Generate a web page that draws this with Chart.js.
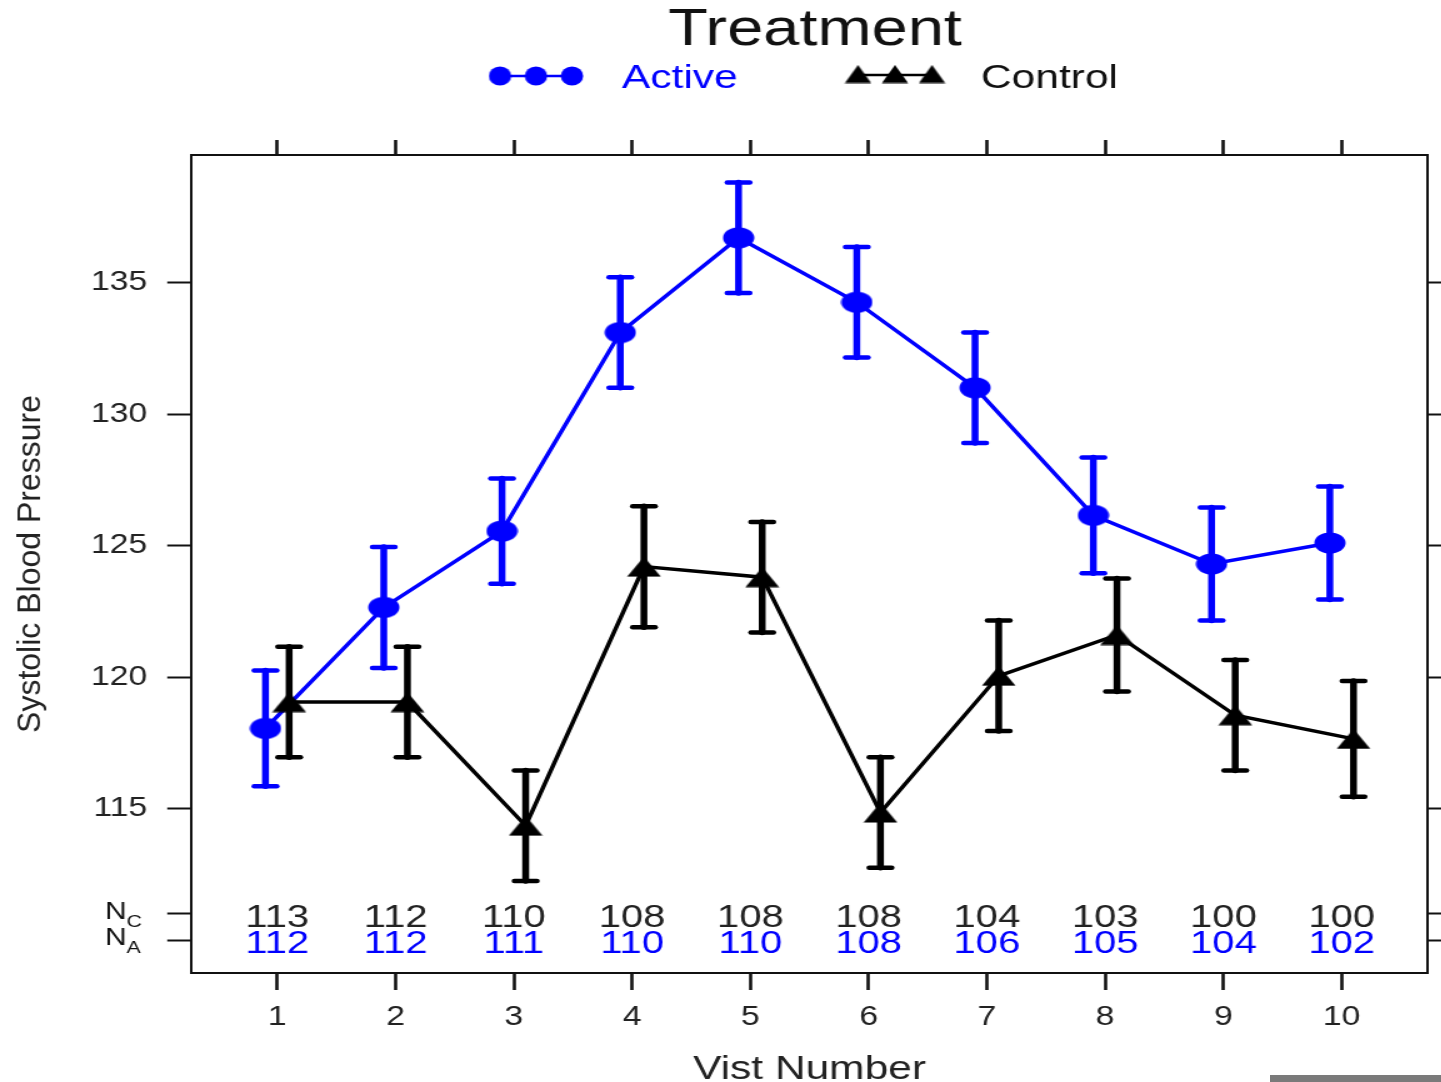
<!DOCTYPE html>
<html>
<head>
<meta charset="utf-8">
<script src="https://cdn.jsdelivr.net/npm/chart.js@4.4.1/dist/chart.umd.min.js"></script>
<style>
html, body { margin: 0; padding: 0; background: #fff; width: 1441px; height: 1082px; overflow: hidden; }
/* the reference is drawn wide, so the chart is laid out narrower and stretched */
#wrap { position: absolute; left: 0; top: 0; width: 1153px; height: 1082px; transform: scaleX(1.25); transform-origin: 0 0; }
#strip { position: absolute; left: 1270px; top: 1075px; width: 171px; height: 7px; background: #7a7a7a; }
</style>
</head>
<body>
<div id="wrap"><canvas id="c" width="1153" height="1082"></canvas></div>
<div id="strip"></div>
<script>
const visits = [1, 2, 3, 4, 5, 6, 7, 8, 9, 10];
const activeMean = [118.05, 122.65, 125.55, 133.1, 136.7, 134.25, 131.0, 126.15, 124.3, 125.1];
const activeSE = [2.2, 2.3, 2.0, 2.1, 2.1, 2.1, 2.1, 2.2, 2.15, 2.15];
const controlMean = [119.05, 119.05, 114.35, 124.2, 123.8, 114.85, 120.05, 121.6, 118.55, 117.65];
const controlSE = [2.1, 2.1, 2.1, 2.3, 2.1, 2.1, 2.1, 2.15, 2.1, 2.2];
const nControl = [113, 112, 110, 108, 108, 108, 104, 103, 100, 100];
const nActive = [112, 112, 111, 110, 110, 108, 106, 105, 104, 102];
const yTicks = [115, 120, 125, 130, 135];

const X_MIN = 0.27, X_MAX = 10.73;
const Y_MIN = 108.75, Y_MAX = 139.85;
const NC_ROW = 111, NA_ROW = 110;
const DODGE = 0.1;
const BLUE = '#0000ff';
const INK = '#111';
const FONT = "'Liberation Sans', Arial, Helvetica, sans-serif";

function ellipseImg(w, h, color) {
    const c = document.createElement('canvas');
    c.width = w; c.height = h;
    const g = c.getContext('2d');
    g.fillStyle = color;
    g.beginPath();
    g.ellipse(w / 2, h / 2, w / 2 - 0.5, h / 2 - 0.5, 0, 0, Math.PI * 2);
    g.fill();
    return c;
}

function triangleImg(w, h, color) {
    const c = document.createElement('canvas');
    c.width = w; c.height = h;
    const g = c.getContext('2d');
    g.fillStyle = color;
    g.beginPath();
    g.moveTo(w / 2, 0.5);
    g.lineTo(w - 0.5, h - 0.5);
    g.lineTo(0.5, h - 0.5);
    g.closePath();
    g.fill();
    return c;
}

const dotMark = ellipseImg(26, 22, BLUE);
const triMark = triangleImg(28, 21, '#000');
const dotKey = ellipseImg(19, 20, BLUE);
const triKey = triangleImg(22, 19, '#000');

function fixTicks(vals) {
    return s => { s.ticks = vals.map(v => ({ value: v })); };
}

function line(ctx, x1, y1, x2, y2) {
    ctx.beginPath();
    ctx.moveTo(x1, y1);
    ctx.lineTo(x2, y2);
    ctx.stroke();
}

const frame = { display: true, color: INK, width: 2 };
const tickFont = { family: FONT, size: 27 };

const decor = {
    id: 'decor',
    beforeDatasetDraw(chart, args) {
        const ds = chart.data.datasets[args.index];
        const ctx = chart.ctx, xs = chart.scales.x, ys = chart.scales.y;
        ctx.save();
        ctx.strokeStyle = ds.borderColor;
        ctx.lineCap = 'round';
        ds.data.forEach((p, i) => {
            const px = xs.getPixelForValue(p.x);
            const top = ys.getPixelForValue(p.y + ds.se[i]);
            const bot = ys.getPixelForValue(p.y - ds.se[i]);
            ctx.lineWidth = 5.5;
            line(ctx, px, top, px, bot);
            ctx.lineWidth = 4.5;
            line(ctx, px - 9, top, px + 9, top);
            line(ctx, px - 9, bot, px + 9, bot);
        });
        ctx.restore();
    },
    afterDraw(chart) {
        const ctx = chart.ctx, xs = chart.scales.x, ys = chart.scales.y;
        const area = chart.chartArea;
        ctx.save();

        // title
        ctx.fillStyle = INK;
        ctx.textAlign = 'center';
        ctx.textBaseline = 'alphabetic';
        ctx.font = `52px ${FONT}`;
        ctx.fillText('Treatment', 652, 45);

        // legend
        ctx.lineWidth = 2.5;
        ctx.strokeStyle = BLUE;
        line(ctx, 400, 76, 457.6, 76);
        [400, 428.8, 457.6].forEach(x => ctx.drawImage(dotKey, x - dotKey.width / 2, 76 - dotKey.height / 2));
        ctx.strokeStyle = '#000';
        line(ctx, 686.4, 75, 745.6, 75);
        [686.4, 716, 745.6].forEach(x => ctx.drawImage(triKey, x - triKey.width / 2, 74 - triKey.height / 2));
        ctx.font = `34px ${FONT}`;
        ctx.textAlign = 'left';
        ctx.fillStyle = BLUE;
        ctx.fillText('Active', 497.6, 88);
        ctx.fillStyle = INK;
        ctx.fillText('Control', 784.8, 88);

        // counts per visit
        ctx.font = `32px ${FONT}`;
        ctx.textAlign = 'center';
        ctx.textBaseline = 'middle';
        const yc = ys.getPixelForValue(NC_ROW) + 4;
        const ya = ys.getPixelForValue(NA_ROW) + 4;
        visits.forEach((v, i) => {
            const px = xs.getPixelForValue(v);
            ctx.fillStyle = '#222';
            ctx.fillText(String(nControl[i]), px, yc);
            ctx.fillStyle = BLUE;
            ctx.fillText(String(nActive[i]), px, ya);
        });

        // N_C / N_A row labels
        ctx.fillStyle = INK;
        ctx.textAlign = 'left';
        ctx.textBaseline = 'alphabetic';
        [['C', NC_ROW], ['A', NA_ROW]].forEach(([sub, row]) => {
            const y = ys.getPixelForValue(row);
            ctx.font = `24px ${FONT}`;
            ctx.fillText('N', 84, y + 5);
            const w = ctx.measureText('N').width;
            ctx.font = `17px ${FONT}`;
            ctx.fillText(sub, 84 + w, y + 13);
        });

        // axis titles
        ctx.fillStyle = '#222';
        ctx.textAlign = 'center';
        ctx.font = `34px ${FONT}`;
        ctx.fillText('Vist Number', (area.left + area.right) / 2, 1079);

        ctx.translate(25, (area.top + area.bottom) / 2);
        ctx.scale(0.8, 1);
        ctx.rotate(-Math.PI / 2);
        ctx.textBaseline = 'middle';
        ctx.font = `32px ${FONT}`;
        ctx.fillText('Systolic Blood Pressure', 0, 0);
        ctx.restore();
    }
};

new Chart(document.getElementById('c'), {
    type: 'line',
    data: {
        datasets: [
            {
                label: 'Active',
                data: visits.map((v, i) => ({ x: v - DODGE, y: activeMean[i] })),
                se: activeSE,
                borderColor: BLUE,
                backgroundColor: BLUE,
                borderWidth: 3.5,
                pointStyle: dotMark,
                order: 2
            },
            {
                label: 'Control',
                data: visits.map((v, i) => ({ x: v + DODGE, y: controlMean[i] })),
                se: controlSE,
                borderColor: '#000',
                backgroundColor: '#000',
                borderWidth: 3.5,
                pointStyle: triMark,
                order: 1
            }
        ]
    },
    options: {
        responsive: false,
        animation: false,
        devicePixelRatio: 1,
        layout: { padding: 0 },
        plugins: { legend: { display: false }, title: { display: false }, tooltip: { enabled: false } },
        elements: { line: { tension: 0 } },
        scales: {
            x: {
                type: 'linear', position: 'bottom', min: X_MIN, max: X_MAX,
                afterBuildTicks: fixTicks(visits),
                afterFit: s => { s.height = 109; },
                border: frame,
                grid: { drawOnChartArea: false, drawTicks: true, tickLength: 17, tickWidth: 2.6, tickColor: INK },
                ticks: { font: tickFont, color: '#222', padding: 11, maxRotation: 0, autoSkip: false }
            },
            xTop: {
                type: 'linear', position: 'top', min: X_MIN, max: X_MAX,
                afterBuildTicks: fixTicks(visits),
                afterFit: s => { s.height = 155; },
                border: frame,
                grid: { drawOnChartArea: false, drawTicks: true, tickLength: 15, tickWidth: 2.6, tickColor: INK },
                ticks: { display: false }
            },
            y: {
                type: 'linear', position: 'left', min: Y_MIN, max: Y_MAX,
                afterBuildTicks: fixTicks([NA_ROW, NC_ROW, ...yTicks]),
                afterFit: s => { s.width = 152.8; },
                border: frame,
                grid: { drawOnChartArea: false, drawTicks: true, tickLength: 19, tickWidth: 2, tickColor: INK },
                ticks: { font: tickFont, color: '#222', padding: 16, callback: v => yTicks.includes(v) ? String(v) : '' }
            },
            yRight: {
                type: 'linear', position: 'right', min: Y_MIN, max: Y_MAX,
                afterBuildTicks: fixTicks([NA_ROW, NC_ROW, ...yTicks]),
                afterFit: s => { s.width = 10.6; },
                border: frame,
                grid: { drawOnChartArea: false, drawTicks: true, tickLength: 13, tickWidth: 2, tickColor: INK },
                ticks: { display: false }
            }
        }
    },
    plugins: [decor]
});
</script>
</body>
</html>
